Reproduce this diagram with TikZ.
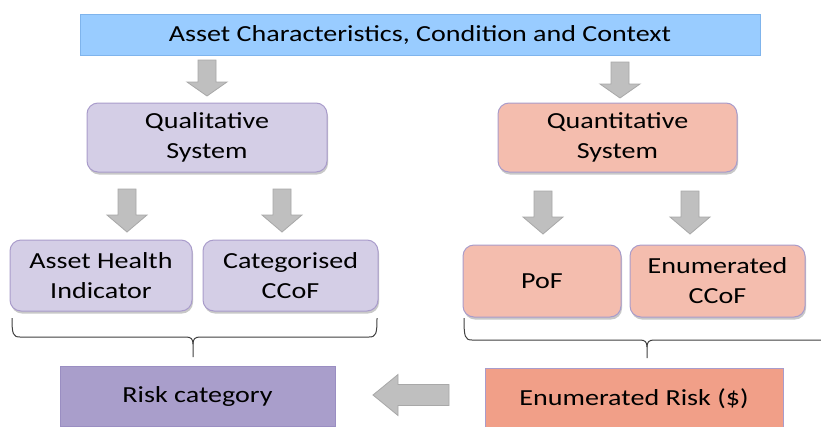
\documentclass[tikz,border=0pt]{standalone}
\usepackage{fontspec}
\setmainfont{Carlito}[FakeStretch=1.22]
\usetikzlibrary{shadows}
\definecolor{topfill}{HTML}{99CCFF}
\definecolor{topdraw}{HTML}{7FB4EC}
\definecolor{lavfill}{HTML}{D4CEE6}
\definecolor{lavdraw}{HTML}{A99CCB}
\definecolor{salfill}{HTML}{F4BDAE}
\definecolor{riskfill}{HTML}{A99ECB}
\definecolor{riskdraw}{HTML}{9A8EC2}
\definecolor{enumfill}{HTML}{F19F88}
\definecolor{arrfill}{HTML}{BFBFBF}
\definecolor{arrdraw}{HTML}{A8A8A8}
\definecolor{bracecol}{HTML}{404040}
\tikzset{
  txt/.style={font=\fontsize{23}{30}\selectfont, text=black, align=center, inner sep=0pt},
  topbox/.style={txt, draw=topdraw, fill=topfill, line width=1pt},
  roundbox/.style={txt, draw=lavdraw, line width=1pt, rounded corners=11pt,
    drop shadow={opacity=0.3, shadow xshift=1pt, shadow yshift=-2.5pt, fill=black!70}},
  qualbox/.style={roundbox, fill=lavfill},
  quanbox/.style={roundbox, fill=salfill},
  riskbox/.style={txt, fill=riskfill, draw=riskdraw, line width=1pt},
  enumbox/.style={txt, fill=enumfill, draw=lavdraw, line width=1pt},
  arrowshape/.style={fill=arrfill, draw=arrdraw, line width=0.8pt, line join=miter},
  bracestyle/.style={draw=bracecol, line width=1pt},
  bigdown/.pic={\path[arrowshape] (-9,0) -- (9,0) -- (9,22) -- (20,22) -- (0,36) -- (-20,22) -- (-9,22) -- cycle;},
  smalldown/.pic={\path[arrowshape] (-9,0) -- (9,0) -- (9,26) -- (20,26) -- (0,43) -- (-20,26) -- (-9,26) -- cycle;},
  leftarr/.pic={\path[arrowshape] (0,-10.5) -- (-51,-10.5) -- (-51,-20.5) -- (-76,0) -- (-51,20.5) -- (-51,10.5) -- (0,10.5) -- cycle;}
}
\begin{document}
\begin{tikzpicture}[x=1pt,y=-1pt]
\useasboundingbox (0,0) rectangle (821,426);
\clip (0,0) rectangle (821,426);
\fill[white] (0,0) rectangle (821,426);

\node[topbox, minimum width=680pt, minimum height=41pt] (top) at (420,34.5) {Asset Characteristics, Condition and Context};

\node[qualbox, minimum width=240pt, minimum height=69pt] (qual) at (207,137.5) {Qualitative\\System};
\node[quanbox, minimum width=239pt, minimum height=69pt] (quan) at (617.5,137.5) {Quantitative\\System};

\node[qualbox, minimum width=182pt, minimum height=71pt] (ahi) at (101,275.5) {Asset Health\\Indicator};
\node[qualbox, minimum width=175pt, minimum height=71pt] (cat) at (290.5,275.5) {Categorised\\CCoF};

\node[quanbox, minimum width=158pt, minimum height=72pt] (pof) at (542,281) {PoF};
\node[quanbox, minimum width=175pt, minimum height=72pt] (eccof) at (717.5,281) {Enumerated\\CCoF};

\node[riskbox, minimum width=275pt, minimum height=60pt] (risk) at (197.5,396) {Risk category};
\node[enumbox, minimum width=298pt, minimum height=62pt] (enum) at (634,399) {Enumerated Risk (\$)};

% block arrows
\pic at (207,60) {bigdown};
\pic at (620,62) {bigdown};
\pic at (127,189) {smalldown};
\pic at (282,189) {smalldown};
\pic at (543,191) {smalldown};
\pic at (690,191) {smalldown};
\pic at (449,395) {leftarr};

% braces
\coordinate (lbtip) at (193,357);
\coordinate (rbtip) at (647,358);
\path[bracestyle] (12,318) .. controls (12,334) and (13,337) .. (20,337) -- (186,337)
  .. controls (191,337) and (193,339) .. (193,344) -- (lbtip);
\path[bracestyle] (377,318) .. controls (377,334) and (376,337) .. (369,337) -- (200,337)
  .. controls (195,337) and (193,339) .. (193,344);
\path[bracestyle] (464,318) .. controls (464,337) and (465,340) .. (472,340) -- (640,340)
  .. controls (645,340) and (647,342) .. (647,347) -- (rbtip);
\path[bracestyle] (830,340) -- (654,340)
  .. controls (649,340) and (647,342) .. (647,347);
\end{tikzpicture}
\end{document}
